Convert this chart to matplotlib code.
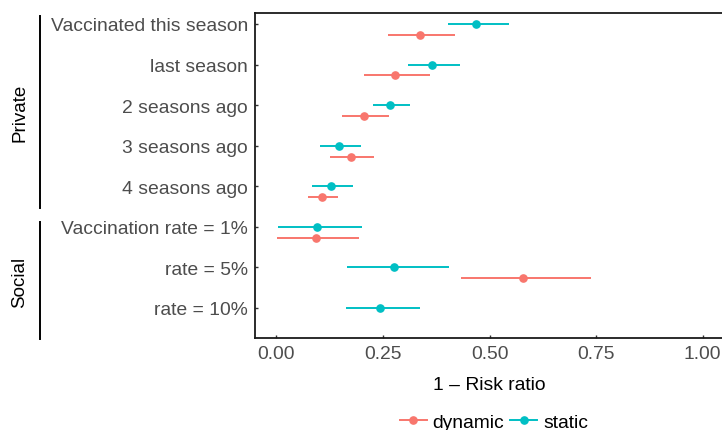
import matplotlib
matplotlib.use("Agg")
import matplotlib.pyplot as plt
from matplotlib.lines import Line2D

plt.rcParams['font.family'] = ['Liberation Sans', 'DejaVu Sans']

categories = ["Vaccinated this season", "last season", "2 seasons ago", "3 seasons ago",
              "4 seasons ago", "Vaccination rate = 1%", "rate = 5%", "rate = 10%"]
static_est = [0.469, 0.365, 0.267, 0.148, 0.128, 0.096, 0.277, 0.244]
static_lo = [0.402, 0.308, 0.227, 0.103, 0.083, 0.004, 0.166, 0.164]
static_hi = [0.546, 0.430, 0.314, 0.199, 0.181, 0.201, 0.405, 0.337]
dynamic_est = [0.336, 0.279, 0.205, 0.174, 0.108, 0.093, 0.579, None]
dynamic_lo = [0.261, 0.205, 0.153, 0.127, 0.074, 0.001, 0.432, None]
dynamic_hi = [0.419, 0.361, 0.264, 0.228, 0.145, 0.194, 0.739, None]
xticks = [0.0, 0.25, 0.5, 0.75, 1.0]
xticklabels = ["0.00", "0.25", "0.50", "0.75", "1.00"]
groups = ["Private", "Social"]

c_dyn = "#F8766D"
c_sta = "#00BFC4"
dodge = 0.27

fig = plt.figure(figsize=(7.22, 4.31), dpi=100)
W, H = 722, 431
ax = fig.add_axes([255 / W, (H - 339.3) / H, (724 - 255) / W, (339.3 - 14) / H])

for i in range(len(categories)):
    ax.plot([static_lo[i], static_hi[i]], [i, i], color=c_sta, lw=1.4, solid_capstyle='butt', zorder=2)
    ax.plot(static_est[i], i, 'o', color=c_sta, ms=5.2, zorder=3)
    if dynamic_est[i] is not None:
        y = i + dodge
        ax.plot([dynamic_lo[i], dynamic_hi[i]], [y, y], color=c_dyn, lw=1.4, solid_capstyle='butt', zorder=2)
        ax.plot(dynamic_est[i], y, 'o', color=c_dyn, ms=5.2, zorder=3)

ax.set_xlim(-0.05, 1.05)
ax.set_ylim(len(categories) - 1 + 0.755, -0.271)
ax.set_yticks(range(len(categories)))
ax.set_yticklabels(categories, fontsize=13.9, color="#4D4D4D")
ax.set_xticks(xticks)
ax.set_xticklabels(xticklabels, fontsize=13.9, color="#4D4D4D")
ax.tick_params(direction='in', length=2.5, width=1.0, color="#333333", pad=5)
for s in ax.spines.values():
    s.set_linewidth(1.3)
    s.set_color("#1a1a1a")
ax.set_xlabel("1 – Risk ratio", fontsize=13.9, color="black", labelpad=10)

# group brackets
fig.add_artist(Line2D([40 / W, 40 / W], [1 - 17 / H, 1 - 209 / H], color="black", lw=1.4))
fig.add_artist(Line2D([40 / W, 40 / W], [1 - 223 / H, 1 - 340 / H], color="black", lw=1.4))
fig.text(20 / W, 1 - 113 / H, groups[0], rotation=90, ha='center', va='center', fontsize=13.5, color='black')
fig.text(20 / W, 1 - 282 / H, groups[1], rotation=90, ha='center', va='center', fontsize=13.5, color='black')

handles = [Line2D([], [], color=c_dyn, marker='o', ms=5.2, lw=1.4),
           Line2D([], [], color=c_sta, marker='o', ms=5.2, lw=1.4)]
fig.legend(handles, ["dynamic", "static"], loc='center', bbox_to_anchor=(494 / W, 1 - 423 / H),
           ncol=2, frameon=False, fontsize=13.9, handlelength=1.4, handletextpad=0.3,
           columnspacing=0.3, borderpad=0, borderaxespad=0)

fig.savefig("out.png", dpi=100)
